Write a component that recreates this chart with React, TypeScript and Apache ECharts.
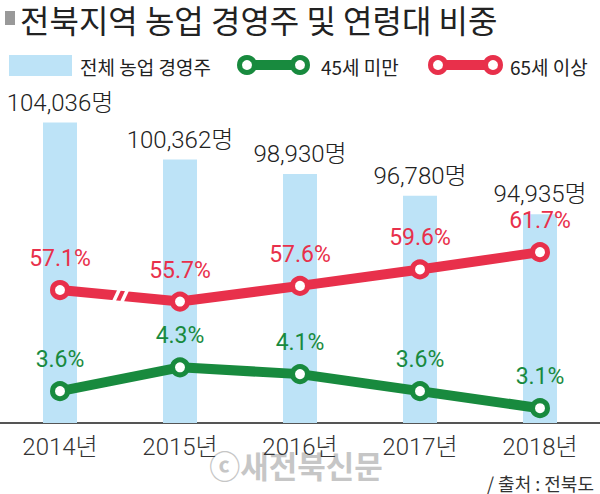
import React, { useEffect, useRef } from "react";
import * as echarts from "echarts";

const categories = ["2014년", "2015년", "2016년", "2017년", "2018년"];
const totalFarmers = [104036, 100362, 98930, 96780, 94935];
const under45 = [3.6, 4.3, 4.1, 3.6, 3.1];
const over65 = [57.1, 55.7, 57.6, 59.6, 61.7];

const titleText = "전북지역 농업 경영주 및 연령대 비중";
const legendNames = ["전체 농업 경영주", "45세 미만", "65세 이상"];
const sourceText = "/ 출처 : 전북도";
const watermarkText = "ⓒ새전북신문";

const BLUE = "#bde3f7";
const RED = "#e8304b";
const GREEN = "#188a3e";
const NUM_FONT = "Roboto, 'Noto Sans CJK KR', sans-serif";
const KR_FONT = "'Noto Sans CJK KR', sans-serif";

function baseGraphic(): any[] {
  const lineIcon = (id: string, x1: number, x2: number, color: string) => [
    { id: id + "-l", type: "line", shape: { x1, y1: 65, x2, y2: 65 }, style: { stroke: color, lineWidth: 10 }, z: 10 },
    { id: id + "-c1", type: "circle", shape: { cx: x1, cy: 65, r: 7.5 }, style: { fill: "#fff", stroke: color, lineWidth: 5 }, z: 11 },
    { id: id + "-c2", type: "circle", shape: { cx: x2, cy: 65, r: 7.5 }, style: { fill: "#fff", stroke: color, lineWidth: 5 }, z: 11 },
  ];
  return [
    { id: "tsq", type: "rect", shape: { x: 5, y: 11, width: 10, height: 14 }, style: { fill: "#999" } },
    {
      id: "title", type: "text", x: 20, y: 19,
      style: { text: titleText, font: `32px ${KR_FONT}`, fill: "#222", verticalAlign: "middle" },
    },
    { id: "lg0", type: "rect", shape: { x: 9, y: 55, width: 63, height: 21 }, style: { fill: BLUE } },
    { id: "lg0t", type: "text", x: 80, y: 66, style: { text: legendNames[0], font: `19px ${KR_FONT}`, fill: "#222", verticalAlign: "middle" } },
    ...lineIcon("lg1", 247, 300, GREEN),
    { id: "lg1t", type: "text", x: 321, y: 66, style: { text: legendNames[1], font: `19px ${KR_FONT}`, fill: "#222", verticalAlign: "middle" } },
    ...lineIcon("lg2", 438, 493, RED),
    { id: "lg2t", type: "text", x: 510, y: 66, style: { text: legendNames[2], font: `19px ${KR_FONT}`, fill: "#222", verticalAlign: "middle" } },
    {
      id: "wm", type: "text", x: 296, y: 464, z: -10,
      style: { text: watermarkText, font: `bold 31px ${KR_FONT}`, fill: "#c6c6c6", align: "center", verticalAlign: "middle" },
    },
    {
      id: "src", type: "text", x: 594, y: 483,
      style: { text: sourceText, font: `18px ${KR_FONT}`, fill: "#333", align: "right", verticalAlign: "middle" },
    },
  ];
}

export default function App() {
  const ref = useRef<HTMLDivElement>(null);
  useEffect(() => {
    document.body.style.margin = "0";
    if (!ref.current) return;
    const chart = echarts.init(ref.current, null, { renderer: "svg" });
    const pctLabel = (color: string) => ({
      show: true,
      position: "top",
      distance: 10,
      color,
      fontFamily: NUM_FONT,
      fontWeight: 400,
      fontSize: 23,
      formatter: (p: any) => p.value.toFixed(1) + "%",
    });
    const option: any = {
      animation: false,
      backgroundColor: "#fff",
      grid: { left: -5, right: -7, top: 100, bottom: 71, containLabel: false },
      xAxis: {
        type: "category",
        data: categories,
        boundaryGap: true,
        axisTick: { show: false },
        axisLine: { lineStyle: { color: "#555", width: 2 } },
        axisLabel: { color: "#333", fontFamily: NUM_FONT, fontWeight: 300, fontSize: 24, margin: 12 },
      },
      yAxis: [
        { type: "value", show: false, min: 74244, max: 106266, splitLine: { show: false } },
        { type: "value", show: false, min: 2.665, max: 12.148, splitLine: { show: false } },
        { type: "value", show: false, min: 40.95, max: 80.18, splitLine: { show: false } },
      ],
      series: [
        {
          name: legendNames[0],
          type: "bar",
          yAxisIndex: 0,
          data: totalFarmers,
          barWidth: 34,
          itemStyle: { color: BLUE },
          z: 1,
          label: {
            show: true,
            position: "top",
            distance: 8,
            color: "#222",
            fontFamily: NUM_FONT,
            fontWeight: 300,
            fontSize: 24,
            formatter: (p: any) => p.value.toLocaleString("en-US") + "명",
          },
        },
        {
          name: legendNames[1],
          type: "line",
          yAxisIndex: 1,
          data: under45,
          symbol: "circle",
          symbolSize: 15,
          lineStyle: { color: GREEN, width: 10 },
          itemStyle: { color: "#fff", borderColor: GREEN, borderWidth: 5 },
          label: pctLabel(GREEN),
          z: 3,
        },
        {
          name: legendNames[2],
          type: "line",
          yAxisIndex: 2,
          data: over65,
          symbol: "circle",
          symbolSize: 15,
          lineStyle: { color: RED, width: 10 },
          itemStyle: { color: "#fff", borderColor: RED, borderWidth: 5 },
          label: pctLabel(RED),
          z: 3,
        },
      ],
      graphic: baseGraphic(),
    };
    chart.setOption(option);

    // axis-break mark on the 65+ line between the first two points
    const p1 = chart.convertToPixel({ seriesIndex: 2 }, [0, over65[0]]) as number[];
    const p2 = chart.convertToPixel({ seriesIndex: 2 }, [1, over65[1]]) as number[];
    if (p1 && p2) {
      const mx = (p1[0] + p2[0]) / 2;
      const slope = (p2[1] - p1[1]) / (p2[0] - p1[0]);
      const stripes = [-3.5, 4.5].map((off, i) => {
        const cx = mx + off;
        const cy = (p1[1] + p2[1]) / 2 + slope * off;
        return {
          id: "brk" + i,
          type: "line",
          z: 20,
          shape: { x1: cx - 3.5, y1: cy + 7.5, x2: cx + 3.5, y2: cy - 7.5 },
          style: { stroke: "#fff", lineWidth: 3.5 },
        };
      });
      chart.setOption({ graphic: [...baseGraphic(), ...stripes] });
    }
    return () => chart.dispose();
  }, []);
  return <div ref={ref} style={{ width: 600, height: 494 }} />;
}
